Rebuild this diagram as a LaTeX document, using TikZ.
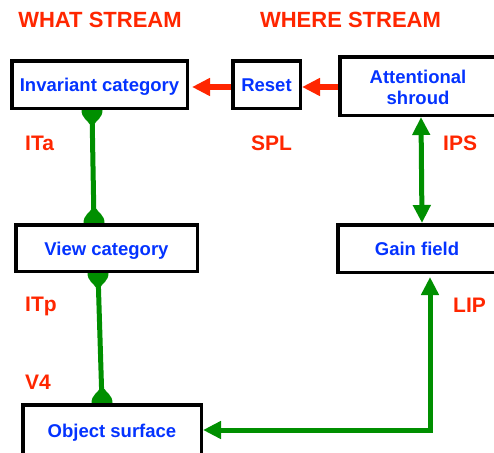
\documentclass[tikz,border=0pt]{standalone}
\usepackage{fontspec}
\setmainfont{Liberation Sans}
\usetikzlibrary{arrows.meta,backgrounds}

\definecolor{areared}{RGB}{255,38,0}
\definecolor{boxblue}{RGB}{4,51,255}
\definecolor{linkgreen}{RGB}{0,143,0}

\tikzset{
  area/.style={draw=black, line width=3.5pt, fill=white, text=boxblue,
    font=\bfseries\fontsize{18.5}{21}\selectfont, align=center, inner sep=0pt,
    text height=14.5pt, text depth=0pt},
  region/.style={text=areared, font=\bfseries\fontsize{21}{24}\selectfont, inner sep=0pt},
  stream/.style={text=areared, font=\bfseries\fontsize{22}{26}\selectfont, inner sep=0pt},
  bigtip/.tip={Triangle[length=18pt,width=17pt]},
  redlink/.style={draw=areared, line width=5.5pt, -bigtip},
  greenlink/.style={draw=linkgreen, line width=5pt},
  greenboth/.style={greenlink, bigtip-bigtip},
}

% rounded cup where a green link meets a box edge
\newcommand\linkcup[2]{%
  \begin{scope}[shift={(#1)}, yscale=#2]
    \fill[linkgreen] (-10.5,-3) -- (-10.5,0) .. controls (-10.5,8) and (-4.5,10) .. (-2.5,14)
      -- (2.5,14) .. controls (4.5,10) and (10.5,8) .. (10.5,0) -- (10.5,-3) -- cycle;
  \end{scope}}

\begin{document}
\begin{tikzpicture}[x=1pt, y=-1pt]
  \path[use as bounding box] (0,0) rectangle (494,452);

  % stream headings
  \node[stream] (what) at (100,20) {WHAT STREAM};
  \node[stream] (where) at (350.5,20) {WHERE STREAM};

  % processing stages
  \node[area, minimum width=175.5pt, minimum height=47.5pt] (inv) at (99.5,84.5) {Invariant category};
  \node[area, minimum width=67.5pt, minimum height=47.5pt] (reset) at (266.5,84.5) {Reset};
  \node[area, minimum width=156.5pt, minimum height=58.5pt,
        text height=37pt, text depth=0pt] (att) at (418,86) {Attentional\\shroud};
  \node[area, minimum width=181.5pt, minimum height=46.5pt] (view) at (106.5,248) {View category};
  \node[area, minimum width=158.5pt, minimum height=47.5pt] (gain) at (417,248.5) {Gain field};
  \node[area, minimum width=178.5pt, minimum height=50.5pt] (obj) at (112,430) {Object surface};

  % cortical areas
  \node[region, anchor=base west] (ita) at (25,150) {ITa};
  \node[region, anchor=base west] (spl) at (251,150) {SPL};
  \node[region, anchor=base west] (ips) at (443,150) {IPS};
  \node[region, anchor=base west] (itp) at (25,311) {ITp};
  \node[region, anchor=base west] (lip) at (453,312) {LIP};
  \node[region, anchor=base west] (v4) at (25,389) {V4};

  % link end points on the box edges
  \coordinate (c1) at ([xshift=-7.5pt]inv.south);
  \coordinate (c2) at ([xshift=-12.5pt]view.north);
  \coordinate (c3) at ([xshift=-8.5pt]view.south);
  \coordinate (c4) at ([xshift=-10pt]obj.north);

  \begin{pgfonlayer}{background}
    % what stream: cup-ended links
    \draw[greenlink] (c1) -- (c2);
    \draw[greenlink] (c3) -- (c4);
    \linkcup{c1}{1}
    \linkcup{c2}{-1}
    \linkcup{c3}{1}
    \linkcup{c4}{-1}
  \end{pgfonlayer}

  % where stream
  \draw[redlink] ([yshift=-1pt]att.west) -- ([yshift=-2.5pt]reset.east);
  \draw[redlink, shorten >=3pt] ([yshift=-2.5pt]reset.west) -- ([yshift=-2.5pt]inv.east);
  \draw[greenboth] ([xshift=3pt]att.south) -- ([xshift=5pt]gain.north);
  \draw[greenboth, shorten >=3pt] (obj.east) -| ([xshift=13pt]gain.south);
\end{tikzpicture}
\end{document}
